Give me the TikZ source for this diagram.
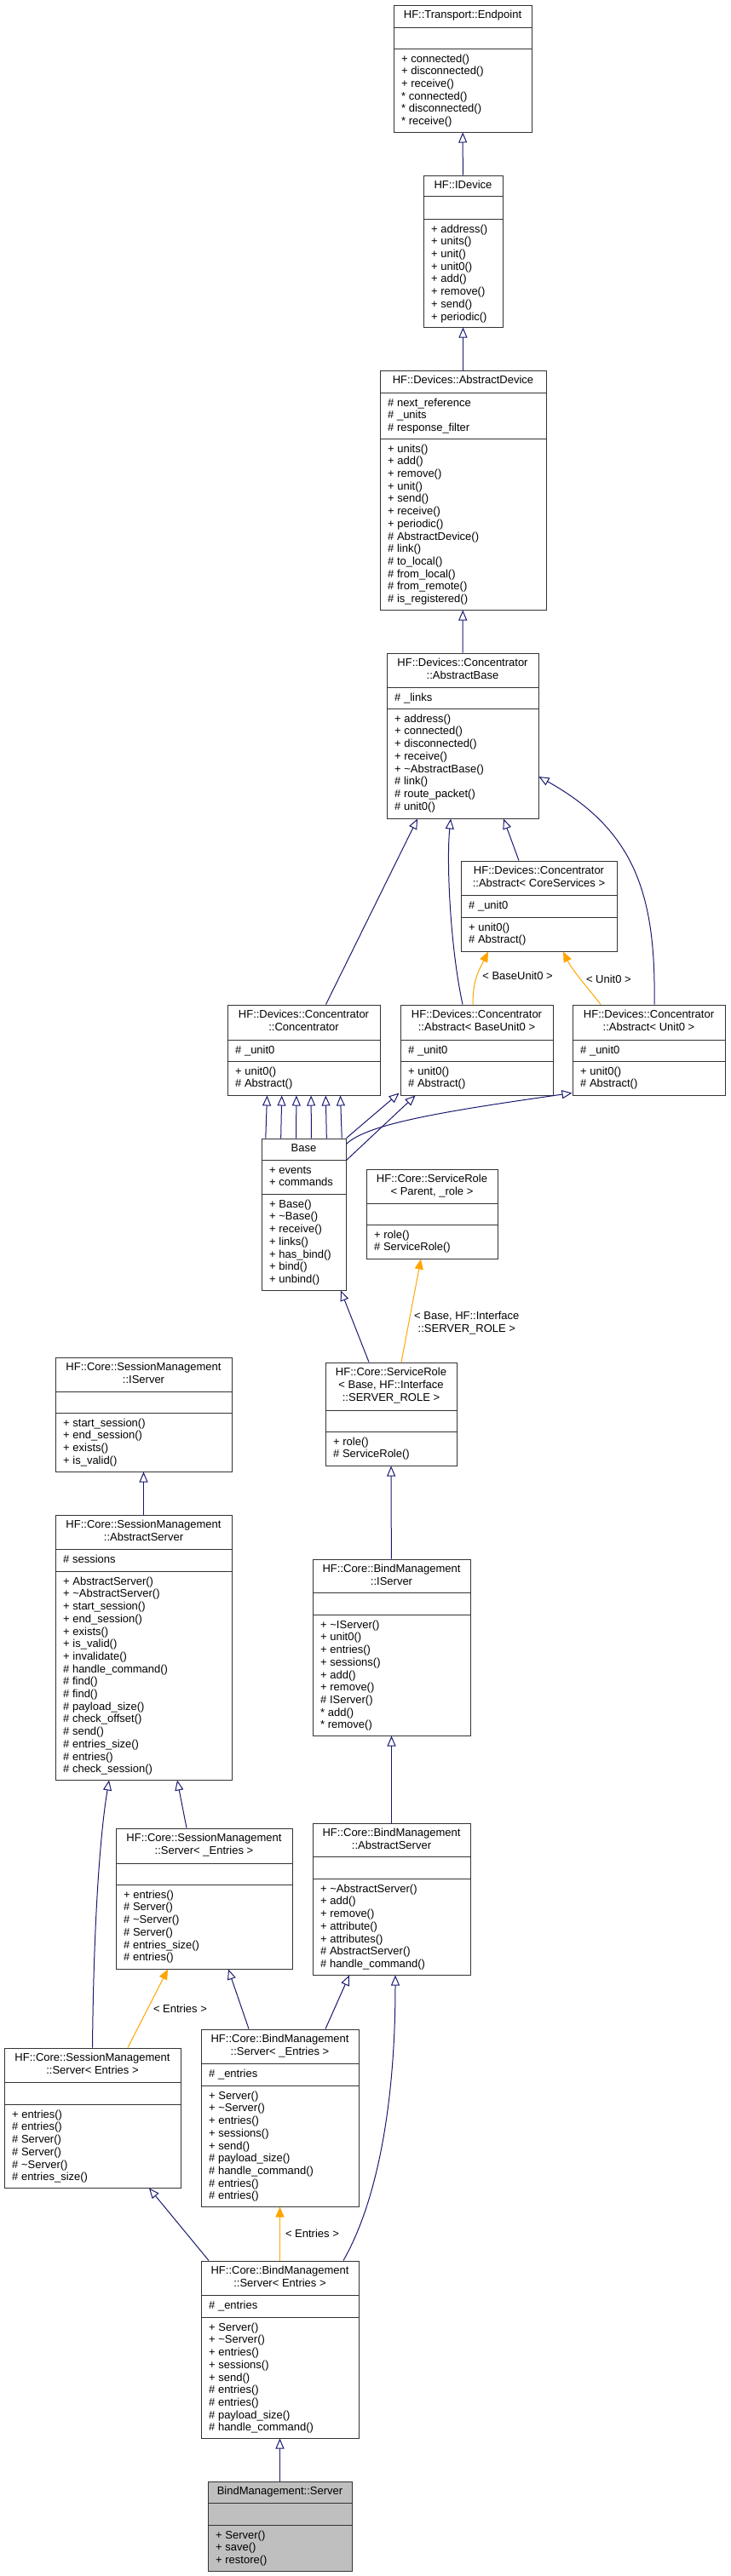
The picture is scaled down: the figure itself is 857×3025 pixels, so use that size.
\documentclass[tikz,border=0pt]{standalone}
\usepackage{fontspec}
\newfontfamily\umlfont{Liberation Sans}
\usetikzlibrary{arrows.meta}
\usetikzlibrary{fit}
\definecolor{edgeblue}{RGB}{25,25,112}
\definecolor{tplorange}{RGB}{255,165,0}
\definecolor{umlgray}{RGB}{191,191,191}
\colorlet{boxline}{black!80}
\tikzstyle{umltext}=[font=\umlfont\fontsize{13}{14.7}\selectfont]
\tikzstyle{classbox}=[draw=boxline,line width=1pt,fill=white,inner sep=0pt,minimum size=0pt]
\tikzstyle{classrule}=[draw=boxline,line width=1pt]
\tikzstyle{classtitle}=[umltext,anchor=north,align=center,inner xsep=0pt,inner ysep=5.7pt]
\tikzstyle{classtext}=[umltext,anchor=north west,align=left,inner xsep=9.5pt,inner ysep=5.7pt]
\tikzstyle{inhhead}=[>/.tip={Triangle[open,length=12pt,width=10pt]}]
\tikzstyle{tplhead}=[>/.tip={Triangle[length=12pt,width=10pt]}]
\tikzstyle{inherit}=[line width=1pt,draw=edgeblue,inhhead,->]
\tikzstyle{instance}=[line width=1pt,draw=tplorange,tplhead,->]
\tikzstyle{tpllabel}=[umltext,anchor=west,inner sep=0pt,xshift=6pt,text=black]
% class box: [style] name, top left, bottom right, first rule, second rule, title, attributes, operations
\newcommand\umlclass[9][]{%
  \node[classbox,#1,fit={(#3) (#4)}] (#2) {};
  \draw[classrule] (#2.west |- 0,#5) -- (#2.east |- 0,#5);
  \draw[classrule] (#2.west |- 0,#6) -- (#2.east |- 0,#6);
  \node[classtitle] (#2t) at (#2.north) {\strut #7};
  \node[classtext] (#2a) at (#2.west |- 0,#5) {\strut #8};
  \node[classtext] (#2o) at (#2.west |- 0,#6) {\strut #9};
}
\begin{document}
\begin{tikzpicture}[x=1pt,y=-1pt]
	\useasboundingbox (0,0) rectangle (857,3025);
	% devices
	\umlclass{endpoint}{462,6}{624,155}{32}{57}{HF::Transport::Endpoint}{}
	  {+ connected()\\+ disconnected()\\+ receive()\\* connected()\\* disconnected()\\* receive()}
	\umlclass{idevice}{497,206}{590,384}{230}{257}{HF::IDevice}{}
	  {+ address()\\+ units()\\+ unit()\\+ unit0()\\+ add()\\+ remove()\\+ send()\\+ periodic()}
	\umlclass{absdevice}{446,435}{641,716}{461}{515}{HF::Devices::AbstractDevice}
	  {\# next\_reference\\\# \_units\\\# response\_filter}
	  {+ units()\\+ add()\\+ remove()\\+ unit()\\+ send()\\+ receive()\\+ periodic()\\\# AbstractDevice()\\\# link()\\\# to\_local()\\\# from\_local()\\\# from\_remote()\\\# is\_registered()}
	\umlclass{absbase}{454,767}{632,961}{807}{832}{HF::Devices::Concentrator\\::AbstractBase}
	  {\# \_links}
	  {+ address()\\+ connected()\\+ disconnected()\\+ receive()\\+ \textasciitilde AbstractBase()\\\# link()\\\# route\_packet()\\\# unit0()}
	\umlclass{coresvc}{541,1011}{724,1117}{1051}{1077}{HF::Devices::Concentrator\\::Abstract< CoreServices >}
	  {\# \_unit0}{+ unit0()\\\# Abstract()}
	\umlclass{conc}{267,1180}{446,1286}{1221}{1246}{HF::Devices::Concentrator\\::Concentrator}
	  {\# \_unit0}{+ unit0()\\\# Abstract()}
	\umlclass{baseunit}{470,1180}{649,1286}{1221}{1246}{HF::Devices::Concentrator\\::Abstract< BaseUnit0 >}
	  {\# \_unit0}{+ unit0()\\\# Abstract()}
	\umlclass{unitzero}{672,1180}{851,1286}{1221}{1246}{HF::Devices::Concentrator\\::Abstract< Unit0 >}
	  {\# \_unit0}{+ unit0()\\\# Abstract()}
	\umlclass{base}{307,1337}{406,1515}{1362}{1402}{Base}
	  {+ events\\+ commands}
	  {+ Base()\\+ \textasciitilde Base()\\+ receive()\\+ links()\\+ has\_bind()\\+ bind()\\+ unbind()}
	% services
	\umlclass{svcrole}{430,1373}{584,1478}{1413}{1438}{HF::Core::ServiceRole\\< Parent, \_role >}{}
	  {+ role()\\\# ServiceRole()}
	\umlclass{svcrolebase}{382,1600}{536,1721}{1656}{1681}{HF::Core::ServiceRole\\< Base, HF::Interface\\::SERVER\_ROLE >}{}
	  {+ role()\\\# ServiceRole()}
	\umlclass{smiserver}{65,1594}{272,1728}{1634}{1659}{HF::Core::SessionManagement\\::IServer}{}
	  {+ start\_session()\\+ end\_session()\\+ exists()\\+ is\_valid()}
	\umlclass{smabs}{65,1779}{272,2090}{1819}{1845}{HF::Core::SessionManagement\\::AbstractServer}
	  {\# sessions}
	  {+ AbstractServer()\\+ \textasciitilde AbstractServer()\\+ start\_session()\\+ end\_session()\\+ exists()\\+ is\_valid()\\+ invalidate()\\\# handle\_command()\\\# find()\\\# find()\\\# payload\_size()\\\# check\_offset()\\\# send()\\\# entries\_size()\\\# entries()\\\# check\_session()}
	\umlclass{bmiserver}{367,1831}{552,2038}{1870}{1896}{HF::Core::BindManagement\\::IServer}{}
	  {+ \textasciitilde IServer()\\+ unit0()\\+ entries()\\+ sessions()\\+ add()\\+ remove()\\\# IServer()\\* add()\\* remove()}
	\umlclass{bmabs}{367,2141}{552,2319}{2180}{2206}{HF::Core::BindManagement\\::AbstractServer}{}
	  {+ \textasciitilde AbstractServer()\\+ add()\\+ remove()\\+ attribute()\\+ attributes()\\\# AbstractServer()\\\# handle\_command()}
	\umlclass{smsrvT}{136,2147}{343,2312}{2188}{2213}{HF::Core::SessionManagement\\::Server< \_Entries >}{}
	  {+ entries()\\\# Server()\\\# \textasciitilde Server()\\\# Server()\\\# entries\_size()\\\# entries()}
	\umlclass{smsrv}{5,2405}{212,2569}{2445}{2471}{HF::Core::SessionManagement\\::Server< Entries >}{}
	  {+ entries()\\\# entries()\\\# Server()\\\# Server()\\\# \textasciitilde Server()\\\# entries\_size()}
	\umlclass{bmsrvT}{236,2383}{421,2591}{2423}{2449}{HF::Core::BindManagement\\::Server< \_Entries >}
	  {\# \_entries}
	  {+ Server()\\+ \textasciitilde Server()\\+ entries()\\+ sessions()\\+ send()\\\# payload\_size()\\\# handle\_command()\\\# entries()\\\# entries()}
	\umlclass{bmsrv}{236,2655}{421,2863}{2695}{2721}{HF::Core::BindManagement\\::Server< Entries >}
	  {\# \_entries}
	  {+ Server()\\+ \textasciitilde Server()\\+ entries()\\+ sessions()\\+ send()\\\# entries()\\\# entries()\\\# payload\_size()\\\# handle\_command()}
	\umlclass[fill=umlgray]{bindsrv}{244,2914}{413,3019}{2939}{2965}{BindManagement::Server}{}
	  {+ Server()\\+ save()\\+ restore()}
	% inheritance
	\draw[inherit] (idevice) -- (endpoint);
	\draw[inherit] (absdevice) -- (idevice);
	\draw[inherit] (absbase) -- (absdevice);
	\draw[inherit] ([xshift=26]conc.north) -- ([xshift=-53]absbase.south);
	\draw[inherit] ([xshift=-16.5]baseunit.north) .. controls (528,1110) and (524,1010) .. ([xshift=-14]absbase.south);
	\draw[inherit] ([xshift=-23.5]coresvc.north) -- ([xshift=48]absbase.south);
	\draw[inherit] ([xshift=6.5]unitzero.north) .. controls (770,1050) and (745,975) .. ([yshift=-48]absbase.east);
	\draw[instance] ([xshift=-4.5]baseunit.north) .. controls (555,1150) and (562,1140) .. node[tpllabel] (lblbu) {< BaseUnit0 >} ([xshift=-59.5]coresvc.south);
	\draw[instance] ([xshift=-56.5]unitzero.north) .. controls (690,1160) and (672,1140) .. node[tpllabel] (lbluz) {< Unit0 >} ([xshift=28.5]coresvc.south);
	\foreach \dx in {-43,-25.8,-8.6,8.6,25.8,43}
	  \draw[inherit] ([xshift={1.04*\dx}]base.north) -- ([xshift=\dx]conc.south);
	\draw[inherit] (base.north east) -- ([xshift=-1,yshift=3]baseunit.south west);
	\draw[inherit] ([yshift=-26]base.north east) -- ([xshift=18]baseunit.south west);
	\draw[inherit] ([yshift=-7]base.north east) .. controls (430,1320) and (520,1305) .. ([yshift=3]unitzero.south west);
	\draw[inherit] ([xshift=-26]svcrolebase.north) -- ([xshift=43.5]base.south);
	\draw[instance] ([xshift=12]svcrolebase.north) -- node[tpllabel,pos=0.38,align=center] (lblsr) {< Base, HF::Interface\\::SERVER\_ROLE >} ([xshift=-13]svcrole.south);
	\draw[inherit] (bmiserver) -- (svcrolebase);
	\draw[inherit] (smabs) -- (smiserver);
	\draw[inherit] (bmabs) -- (bmiserver);
	\draw[inherit] ([xshift=-20.5]smsrvT.north) -- ([xshift=39.5]smabs.south);
	\draw[inherit] (smsrv.north) .. controls (110,2250) and (118,2150) .. ([xshift=-40.5]smabs.south);
	\draw[instance] ([xshift=41.5]smsrv.north) -- node[tpllabel] (lblsm) {< Entries >} ([xshift=-42.5]smsrvT.south);
	\draw[inherit] ([xshift=-36.5]bmsrvT.north) -- ([xshift=28.5]smsrvT.south);
	\draw[inherit] ([xshift=53.5]bmsrvT.north) -- ([xshift=-49.5]bmabs.south);
	\draw[inherit] ([xshift=74.5]bmsrv.north) .. controls (440,2590) and (464,2480) .. ([xshift=4.5]bmabs.south);
	\draw[inherit] ([xshift=-83.5]bmsrv.north) -- ([xshift=66.5]smsrv.south);
	\draw[instance] (bmsrv) -- node[tpllabel] (lblbm) {< Entries >} (bmsrvT);
	\draw[inherit] (bindsrv) -- (bmsrv);
\end{tikzpicture}
\end{document}
